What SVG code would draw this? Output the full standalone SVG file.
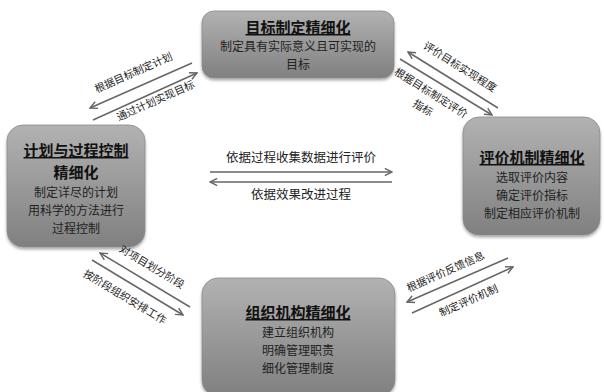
<svg xmlns="http://www.w3.org/2000/svg" width="604" height="392" viewBox="0 0 604 392">
<defs>
<linearGradient id="g" x1="0" y1="0" x2="0" y2="1">
<stop offset="0" stop-color="#b2b2b2"/>
<stop offset="1" stop-color="#808080"/>
</linearGradient>
<filter id="sh" x="-10%" y="-10%" width="120%" height="125%">
<feGaussianBlur in="SourceAlpha" stdDeviation="1.5"/>
<feOffset dx="0" dy="2" result="b"/>
<feComponentTransfer><feFuncA type="linear" slope="0.35"/></feComponentTransfer>
<feMerge><feMergeNode/><feMergeNode in="SourceGraphic"/></feMerge>
</filter>
<marker id="ah" viewBox="0 0 10 10" refX="9" refY="5" markerWidth="9" markerHeight="9" markerUnits="userSpaceOnUse" orient="auto">
<path d="M1,1 L9,5 L1,9" fill="none" stroke="#666" stroke-width="1.6"/>
</marker>
<style>
.box{fill:url(#g);stroke:#8a8a8a;stroke-width:0.8;filter:url(#sh)}
.t{font-family:"Noto Sans CJK SC","Liberation Sans",sans-serif;font-size:15px;font-weight:bold;fill:#111;text-anchor:middle;text-decoration:underline}
.tb{font-family:"Noto Sans CJK SC","Liberation Sans",sans-serif;font-size:15px;font-weight:bold;fill:#111;text-anchor:middle}
.s{font-family:"Noto Sans CJK SC","Liberation Sans",sans-serif;font-size:12px;fill:#222;text-anchor:middle}
.l{font-family:"Noto Sans CJK SC","Liberation Sans",sans-serif;font-size:10.5px;fill:#222;text-anchor:middle}
.lm{font-family:"Noto Sans CJK SC","Liberation Sans",sans-serif;font-size:12.5px;fill:#222;text-anchor:middle}
.c{stroke:#666;stroke-width:1.5;fill:none;marker-end:url(#ah)}
</style>
</defs>
<rect width="604" height="392" fill="#fff"/>
<g id="top">
<rect class="box" x="202" y="11" width="192" height="67" rx="12"/>
<text class="t" x="298" y="33">目标制定精细化</text>
<text class="s" x="298" y="51">制定具有实际意义且可实现的</text>
<text class="s" x="298" y="69">目标</text>
</g>
<g id="left">
<rect class="box" x="7" y="125" width="138" height="122" rx="16"/>
<text class="t" x="76" y="156">计划与过程控制</text>
<text class="tb" x="76" y="178">精细化</text>
<text class="s" x="76" y="197">制定详尽的计划</text>
<text class="s" x="76" y="215">用科学的方法进行</text>
<text class="s" x="76" y="233">过程控制</text>
</g>
<g id="right">
<rect class="box" x="463" y="117" width="137" height="118" rx="16"/>
<text class="t" x="532" y="163">评价机制精细化</text>
<text class="s" x="532" y="182">选取评价内容</text>
<text class="s" x="532" y="200">确定评价指标</text>
<text class="s" x="532" y="218">制定相应评价机制</text>
</g>
<g id="bottom">
<rect class="box" x="202" y="278" width="193" height="118" rx="16"/>
<text class="t" x="298" y="318">组织机构精细化</text>
<text class="s" x="298" y="337">建立组织机构</text>
<text class="s" x="298" y="355">明确管理职责</text>
<text class="s" x="298" y="373">细化管理制度</text>
</g>
<g id="connectors">
<line class="c" x1="192" y1="63" x2="90" y2="108"/>
<line class="c" x1="93" y1="120" x2="197" y2="73"/>
<line class="c" x1="498" y1="108" x2="408" y2="52"/>
<line class="c" x1="400" y1="59" x2="492" y2="115"/>
<line class="c" x1="210" y1="172" x2="392" y2="172"/>
<line class="c" x1="392" y1="182" x2="210" y2="182"/>
<line class="c" x1="190" y1="307" x2="100" y2="253"/>
<line class="c" x1="92" y1="260" x2="183" y2="315"/>
<line class="c" x1="508" y1="258" x2="407" y2="302"/>
<line class="c" x1="412" y1="313" x2="513" y2="267"/>
<text class="l" transform="translate(135,76) rotate(-24)">根据目标制定计划</text>
<text class="l" transform="translate(157,104) rotate(-24)">通过计划实现目标</text>
<text class="l" transform="translate(458,70) rotate(32)">评价目标实现程度</text>
<text class="l" transform="translate(429,96) rotate(32)">根据目标制定评价</text>
<text class="l" transform="translate(421,111) rotate(32)">指标</text>
<text class="lm" x="301" y="162">依据过程收集数据进行评价</text>
<text class="lm" x="301" y="199">依据效果改进过程</text>
<text class="l" transform="translate(150,270) rotate(31)">对项目划分阶段</text>
<text class="l" transform="translate(123,300) rotate(31)">按阶段组织安排工作</text>
<text class="l" transform="translate(447,275) rotate(-24)">根据评价反馈信息</text>
<text class="l" transform="translate(470,304) rotate(-24)">制定评价机制</text>
</g>
</svg>
